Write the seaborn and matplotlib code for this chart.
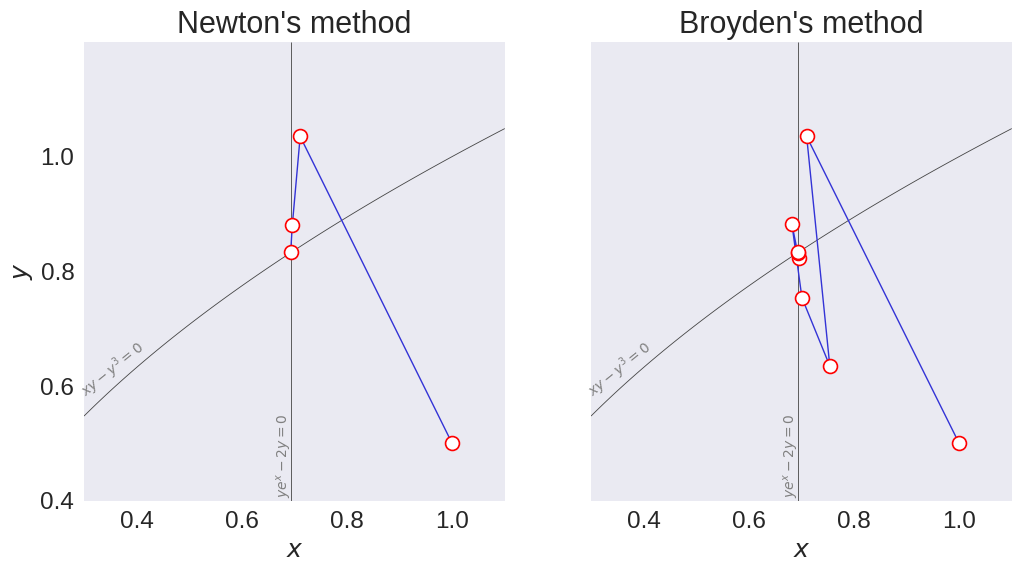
import numpy as np
import matplotlib
matplotlib.use("Agg")
import matplotlib.pyplot as plt
import seaborn as sns

# Iterates
newton_x = [1.0, 0.711, 0.696, 0.693, 0.693, 0.693]
newton_y = [0.5, 1.035, 0.880, 0.836, 0.833, 0.833]

broyden_x = [1.0, 0.710, 0.754, 0.701, 0.682, 0.695, 0.694, 0.693]
broyden_y = [0.5, 1.035, 0.635, 0.754, 0.882, 0.823, 0.832, 0.833]

titles = ["Newton's method", "Broyden's method"]
xticks = [0.4, 0.6, 0.8, 1.0]
yticks = [0.4, 0.6, 0.8, 1.0]

sns.set_style("dark")
plt.rcParams['font.family'] = ['Liberation Sans', 'DejaVu Sans']
plt.rcParams['mathtext.fontset'] = 'dejavusans'

fig, axes = plt.subplots(1, 2, figsize=(10.22, 5.73), dpi=100, sharey=True)
fig.subplots_adjust(left=0.0822, right=0.990, top=0.927, bottom=0.126, wspace=0.205)

gx = np.linspace(0.3, 1.1, 400)
gy = np.linspace(0.4, 1.2, 400)
X, Y = np.meshgrid(gx, gy)
F1 = X * Y - Y**3
F2 = Y * np.exp(X) - 2 * Y

for ax, title, xs, ys in zip(axes, titles, [newton_x, broyden_x], [newton_y, broyden_y]):
    ax.contour(X, Y, F1, levels=[0], colors='#444444', linewidths=0.6)
    ax.contour(X, Y, F2, levels=[0], colors='#444444', linewidths=0.6)
    ax.text(0.312, 0.572, r"$xy - y^3 = 0$", rotation=39, color='gray', fontsize=10,
            ha='left', va='bottom', rotation_mode='anchor')
    ax.text(0.682, 0.405, r"$ye^x - 2y = 0$", rotation=90, color='gray', fontsize=10,
            ha='center', va='bottom')
    sns.lineplot(x=xs, y=ys, ax=ax, sort=False, color='#3333d6', linewidth=1.0,
                 marker='o', markersize=10, markerfacecolor='white',
                 markeredgecolor='red', markeredgewidth=1.2)
    ax.set_xlim(0.3, 1.1)
    ax.set_ylim(0.4, 1.2)
    ax.set_xticks(xticks)
    ax.set_yticks(yticks)
    ax.set_title(title, fontsize=22)
    ax.set_xlabel(r"$x$", fontsize=18)
    ax.set_ylabel(r"$y$", fontsize=18)
    ax.tick_params(labelsize=17.5)
    for s in ax.spines.values():
        s.set_visible(False)

fig.savefig("out.png", dpi=100)
